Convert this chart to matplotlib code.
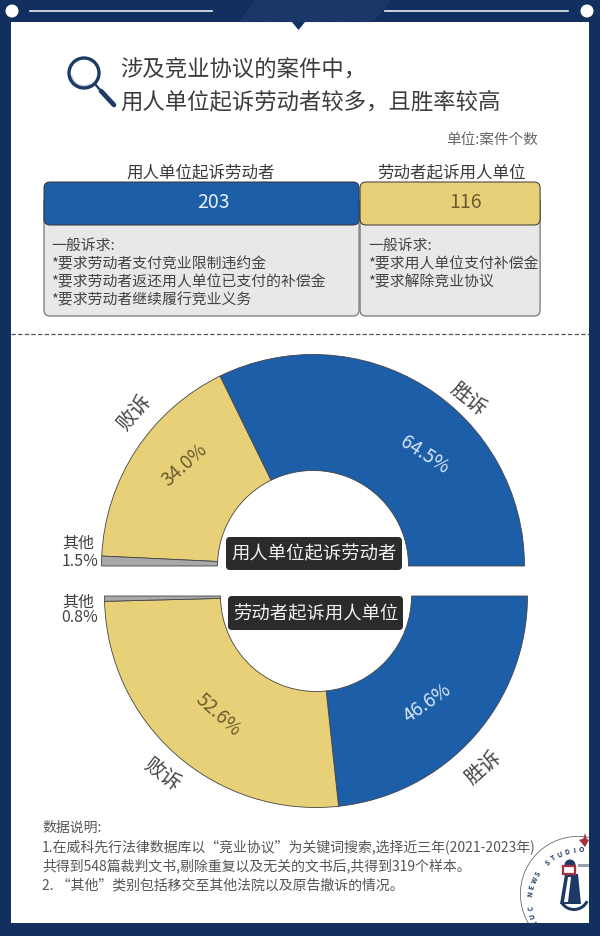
import numpy as np
import matplotlib
matplotlib.use('Agg')
import matplotlib.pyplot as plt
from matplotlib.patches import Rectangle, FancyBboxPatch, Circle, Polygon, Wedge

plt.rcParams['font.family'] = ['Noto Sans CJK SC', 'DejaVu Sans']

# data
parties = ['用人单位起诉劳动者', '劳动者起诉用人单位']
case_counts = [203, 116]
outcomes = ['胜诉', '败诉', '其他']
share_employer = [64.5, 34.0, 1.5]
share_worker = [46.6, 52.6, 0.8]
claims_employer = ['一般诉求:', '*要求劳动者支付竞业限制违约金', '*要求劳动者返还用人单位已支付的补偿金', '*要求劳动者继续履行竞业义务']
claims_worker = ['一般诉求:', '*要求用人单位支付补偿金', '*要求解除竞业协议']
title_lines = ['涉及竞业协议的案件中\uff0c', '用人单位起诉劳动者较多\uff0c且胜率较高']
notes = ['数据说明:',
         '1.在威科先行法律数据库以“竞业协议”为关键词搜索,选择近三年(2021-2023年)',
         '共得到548篇裁判文书,剔除重复以及无关的文书后,共得到319个样本。',
         '2. “其他”类别包括移交至其他法院以及原告撤诉的情况。']

NAVY = '#12305f'
INK = '#1d3a66'
BLUE = '#1d5ea8'
YELLOW = '#e8d078'
GRAY = '#a9a9a9'
TXT = '#444444'
ON_BLUE = '#d6e6f5'
ON_YELLOW = '#6b5d2f'

W, H = 600, 937
fig = plt.figure(figsize=(6, 9.37), dpi=100, facecolor=NAVY)
ax = fig.add_axes([0, 0, 1, 1])

# y is measured from the top, like the picture
def Y(y):
    return H - y

def label(x, y, s, size=11, color=TXT, rot=0, ha='center', **kw):
    ax.text(x, Y(y), s, fontsize=size, color=color, rotation=rot, ha=ha, va='center',
            rotation_mode='anchor', **kw)

# frame
panel = Rectangle((11, Y(924)), 578, 901, fc='white', ec='none', zorder=1)
ax.add_patch(panel)
for x in np.arange(240, 375, 3):
    ax.plot([x, x + 18], [Y(23), Y(0)], color='#3b5685', lw=0.5, alpha=0.7, zorder=1)
ax.add_patch(Polygon([(292, Y(23)), (305, Y(23)), (298.5, Y(31))], fc=NAVY, ec='none', zorder=2))
for x0, x1 in [(30, 212), (385, 568)]:
    ax.plot([x0, x1], [Y(12), Y(12)], color='#e8edf3', lw=1.2, zorder=2)
for x in [12, 587]:
    ax.add_patch(Circle((x, Y(12)), 6.5, fc='white', ec='none', zorder=2))

# magnifier
ax.add_patch(Wedge((84, Y(74)), 14.5, 190, 300, width=2.5, fc='#c3c9d6', ec='none', zorder=3))
ax.add_patch(Circle((84, Y(74)), 15, fc='none', ec=INK, lw=2.4, zorder=3))
ax.plot([95, 101], [Y(85), Y(92)], color=INK, lw=1.6, zorder=3)
ax.plot([101, 114], [Y(92), Y(106)], color=INK, lw=3.4, solid_capstyle='round', zorder=3)

# title
label(120, 70, title_lines[0], size=16.1, ha='left', color='#3c3c3c')
label(120, 102, title_lines[1], size=16.1, ha='left', color='#3c3c3c')
label(538, 140, '单位:案件个数', size=10.5, ha='right', color='#666666')

# boxes, bar width follows the count
px_per_case = 1.552
left = 44
num_x = [213, 466]
name_x = [201, 451]
text_x = [51, 368]
for i, (name, n, fc, tc, claims) in enumerate(zip(parties, case_counts, [BLUE, YELLOW],
                                                  ['#e6f0f8', '#6b5d2f'], [claims_employer, claims_worker])):
    w = n * px_per_case
    ax.add_patch(FancyBboxPatch((left + 6, Y(317) + 6), w - 12, 120 - 12, boxstyle='round,pad=6',
                                fc='#e9e8e8', ec='#777777', lw=0.9, zorder=3))
    ax.add_patch(FancyBboxPatch((left + 6, Y(226) + 6), w - 12, 43 - 12, boxstyle='round,pad=6',
                                fc=fc, ec='#333333', lw=0.7, zorder=4))
    label(name_x[i], 173, name, size=11.9, color='#3a3a3a', zorder=5)
    label(num_x[i], 202, str(n), size=14, color=tc, zorder=5)
    for j, line in enumerate(claims):
        label(text_x[i], 246 + j * 18, line, size=10.7, ha='left', zorder=5)
    left += w + 1

ax.plot([11, 589], [Y(335), Y(335)], color='#555555', lw=0.9, ls=(0, (3.5, 1.8)), zorder=2)

# half donuts: an unseen wedge fills the other half of each pie
colors = [BLUE, YELLOW, GRAY, 'none']
for vals, c, ccw in [(share_employer, (313, Y(567)), True), (share_worker, (316, Y(597)), False)]:
    wedges, _ = ax.pie(vals + [sum(vals)], colors=colors, center=c, radius=211.5, startangle=0,
                       counterclock=ccw, frame=True,
                       wedgeprops=dict(width=116, edgecolor='#444444', linewidth=0.6, zorder=3))
    wedges[-1].set_visible(False)

label(468, 399, outcomes[0], size=14.5, rot=-38, zorder=5)
label(134, 413, outcomes[1], size=14.5, rot=50, zorder=5)
label(425, 455, f'{share_employer[0]}%', size=13.5, color=ON_BLUE, rot=-33, zorder=5)
label(185, 465, f'{share_employer[1]}%', size=13.5, color=ON_YELLOW, rot=42, zorder=5)
label(78, 543, outcomes[2], size=11.5, zorder=5)
label(80, 562, f'{share_employer[2]}%', size=11.5, zorder=5)
label(78, 602, outcomes[2], size=11.5, zorder=5)
label(80, 618, f'{share_worker[2]}%', size=11.5, zorder=5)
label(427, 703, f'{share_worker[0]}%', size=13.5, color=ON_BLUE, rot=35, zorder=5)
label(218, 715, f'{share_worker[1]}%', size=13.5, color=ON_YELLOW, rot=-42, zorder=5)
label(483, 768, outcomes[0], size=14.5, rot=42, zorder=5)
label(162, 775, outcomes[1], size=14.5, rot=-36, zorder=5)

for x, y, w, h, s in [(226, 538, 176, 33, parties[0]), (228, 597, 175, 34, parties[1])]:
    ax.add_patch(FancyBboxPatch((x + 4, Y(y + h) + 4), w - 8, h - 8, boxstyle='round,pad=4',
                                fc='#2b2b2b', ec='none', zorder=6))
    label(x + w / 2, y + h / 2, s, size=13.2, color='#f2f2f2', zorder=7)

# notes
for j, line in enumerate(notes):
    label(42, 828 + j * 19, line, size=10, ha='left', color='#555555', zorder=5)

# logo
cx, cy = 581, 901
letter_angles = np.linspace(205, 90, 15)
for a, ch in zip(letter_angles, 'RUC NEWS STUDIO'):
    t = np.radians(a)
    ax.text(cx + 51 * np.cos(t), Y(cy) + 51 * np.sin(t), ch, fontsize=5, fontweight='bold', color=INK,
            rotation=a - 90, ha='center', va='center', rotation_mode='anchor', zorder=6)
ring = Wedge((578, Y(895)), 58, 70, 250, width=0.8, fc='#666666', ec='none', zorder=5)
ax.add_patch(ring)
ring.set_clip_path(panel)
ax.add_patch(Polygon([(565, Y(875)), (578, Y(875)), (581, Y(905)), (560, Y(905))], fc=INK, ec='none', zorder=5))
ax.add_patch(Polygon([(568, Y(878)), (571, Y(878)), (568, Y(903)), (564, Y(903))], fc='white', ec='none', zorder=5))
ax.add_patch(Wedge((570, Y(866)), 5.5, 0, 180, fc=INK, ec='none', zorder=5))
ax.add_patch(Rectangle((563, Y(875)), 12, 8, fc='white', ec='#a5303f', lw=1.6, zorder=5))
ax.add_patch(Rectangle((578, Y(868)), 11, 3, fc='#9aa0b0', ec='none', zorder=5))
wave = Wedge((574, Y(896)), 16, 215, 335, width=3, fc=INK, ec='none', zorder=5)
ax.add_patch(wave)
ax.add_patch(Polygon([(579, Y(841)), (585, Y(839)), (589, Y(841)), (585, Y(848))], fc='#a5303f', ec='none', zorder=7))
ax.add_patch(Polygon([(585, Y(834)), (587, Y(841)), (585, Y(848)), (583, Y(841))], fc='#a5303f', ec='none', zorder=7))

ax.set_xlim(0, W)
ax.set_ylim(0, H)
ax.set_aspect('auto')
ax.axis('off')

fig.savefig('out.png', dpi=100, facecolor=NAVY)
